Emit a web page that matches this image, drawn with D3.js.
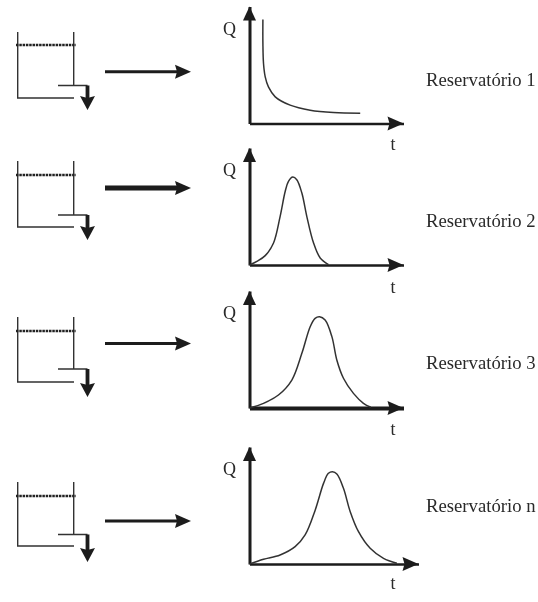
<!DOCTYPE html>
<html>
<head>
<meta charset="utf-8">
<script src="https://cdn.jsdelivr.net/npm/d3@7"></script>
<style>
  html, body { margin: 0; padding: 0; background: #fff; overflow: hidden; }
  text { font-family: "Liberation Serif", serif; fill: #2a2a2a; }
</style>
</head>
<body>
<script>
const width = 538
const height = 602

// Series, [t, Q] in percent of each axis
const labels = ["Reservatório 1", "Reservatório 2", "Reservatório 3", "Reservatório n"]
const curve1 = [[8.7,88.9],[8.7,68.4],[9.1,51.3],[10.2,39.9],[12.3,31.3],[16.7,22.8],[26.4,15.7],[39.4,11.4],[54.5,9.4],[71.9,8.8]]
const curve2 = [[0,0],[4.8,3.1],[10.2,8],[15.6,18.8],[19.9,41.6],[23.2,63],[25.3,71.5],[28.1,75.2],[30.7,72.9],[34,61.5],[37.2,41.6],[41.6,18.8],[45.9,6],[51.3,0.3]]
const curve3 = [[0,0],[9.1,4],[18.8,11.1],[27.5,23.9],[34,46.7],[39.4,69.5],[42.6,76.6],[45.5,78],[49.1,75.2],[53.5,61],[56.7,41],[61,25.4],[67.5,12.5],[74,4],[78.8,0.6]]
const curve4 = [[0,0],[8.3,4],[18.1,7.7],[27,14.8],[32.9,24.8],[38.9,46.2],[43.8,68.9],[46.7,77.5],[49.1,78.9],[51.7,76.9],[55.6,64.7],[59.6,44.7],[64.5,27.6],[71.4,13.4],[79.3,4.8],[87.2,0.6]]
const curves = [curve1, curve2, curve3, curve4]

// Layout of the rows
const originY = [123.5, 265, 408, 564]
const axisLen = [154, 154, 154, 169]
const xAxisWidth = [2.5, 2.5, 4, 2.5]
const qY = [35, 176, 319, 475]
const tY = [150, 293, 435, 589]
const labelY = [86, 227, 369, 512]
const tankTop = [32, 161, 317, 482]
const waterY = [45, 175, 331, 496]
const outletY = [85.5, 215, 369, 534.5]
const tankBottom = [98, 227, 382, 546]
const arrowTip = [110, 240, 397, 562]
const bigArrowY = [71.7, 188, 343.5, 521]
const bigArrowWidth = [3, 5, 3, 3]

const originX = 249.5
const axisHeight = 117

const svg = d3.select("body").append("svg")
    .attr("width", width)
    .attr("height", height)

const defs = svg.append("defs")
defs.append("filter").attr("id", "soft")
    .append("feGaussianBlur").attr("stdDeviation", 0.45)

const root = svg.append("g").attr("filter", "url(#soft)")

// solid triangle pointing at (x,y), dir is "right", "up" or "down"
const head = (g, x, y, dir, len, half) => {
    const pts = dir == "right" ? [[x,y],[x-len,y-half],[x-len+2,y],[x-len,y+half]]
        : dir == "up" ? [[x,y],[x-half,y+len],[x+half,y+len]]
        : [[x,y],[x-half,y-len],[x,y-len+2],[x+half,y-len]]
    g.append("path")
        .attr("d", d3.line()(pts) + "Z")
        .attr("fill", "#1c1c1c")
}

const drawTank = (i) => {
    const g = root.append("g")
    const left = 17.7, right = 73.7, pipeStart = 58, pipeEnd = 87.5

    g.append("path")
        .attr("d", `M${left},${tankTop[i]}V${tankBottom[i]}H${right+0.3}`)
        .attr("fill", "none").attr("stroke", "#333").attr("stroke-width", 1.4)
    g.append("path")
        .attr("d", `M${right},${tankTop[i]}V${outletY[i]}M${pipeStart},${outletY[i]}H${pipeEnd}`)
        .attr("fill", "none").attr("stroke", "#333").attr("stroke-width", 1.4)
    g.append("line")
        .attr("x1", 16).attr("x2", 76)
        .attr("y1", waterY[i]).attr("y2", waterY[i])
        .attr("stroke", "#222").attr("stroke-width", 2.4)
        .attr("stroke-dasharray", "2.5 0.8")
    g.append("line")
        .attr("x1", pipeEnd).attr("x2", pipeEnd)
        .attr("y1", outletY[i]).attr("y2", arrowTip[i] - 10)
        .attr("stroke", "#1c1c1c").attr("stroke-width", 3.8)
    head(g, pipeEnd, arrowTip[i], "down", 14, 7.5)

    // arrow from the tank to the plot
    g.append("line")
        .attr("x1", 105).attr("x2", 180)
        .attr("y1", bigArrowY[i]).attr("y2", bigArrowY[i])
        .attr("stroke", "#1c1c1c").attr("stroke-width", bigArrowWidth[i])
    head(g, 191, bigArrowY[i], "right", 16, 7)
}

const drawPlot = (i) => {
    const x = d3.scaleLinear().domain([0, 100]).range([originX, originX + axisLen[i]])
    const y = d3.scaleLinear().domain([0, 100]).range([originY[i], originY[i] - axisHeight])
    const g = root.append("g")

    const yAxisG = g.append("g")
        .attr("transform", `translate(${originX},0)`)
        .call(d3.axisLeft(y).tickValues([]).tickSizeOuter(0))
    yAxisG.select(".domain").attr("stroke", "#1c1c1c").attr("stroke-width", 3)

    const xAxisG = g.append("g")
        .attr("transform", `translate(0,${originY[i]})`)
        .call(d3.axisBottom(x).tickValues([]).tickSizeOuter(0))
    xAxisG.select(".domain").attr("stroke", "#1c1c1c").attr("stroke-width", xAxisWidth[i])

    head(g, x(0), y(100), "up", 14, 6.5)
    head(g, x(100), y(0), "right", 16, 7)

    const line = d3.line()
        .x(d => x(d[0]))
        .y(d => y(d[1]))
        .curve(d3.curveCatmullRom.alpha(0.5))

    g.append("path")
        .datum(curves[i])
        .attr("d", line)
        .attr("fill", "none")
        .attr("stroke", "#333")
        .attr("stroke-width", 1.5)

    g.append("text").attr("x", 223).attr("y", qY[i]).attr("font-size", 18).text("Q")
    g.append("text").attr("x", 393).attr("y", tY[i]).attr("text-anchor", "middle").attr("font-size", 18).text("t")
    g.append("text").attr("x", 426).attr("y", labelY[i]).attr("font-size", 18.7).text(labels[i])
}

labels.forEach((d, i) => {
    drawTank(i)
    drawPlot(i)
})
</script>
</body>
</html>
